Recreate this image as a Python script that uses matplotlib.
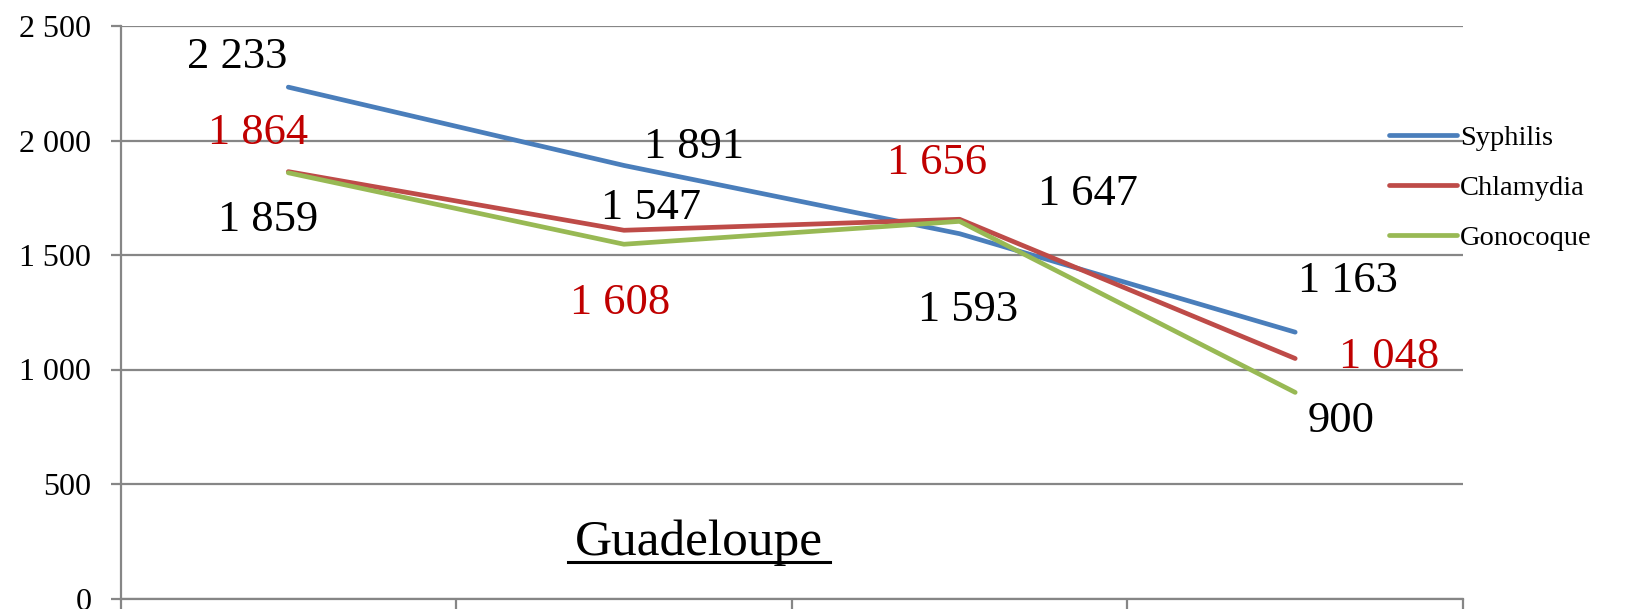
import matplotlib.pyplot as plt
from matplotlib.ticker import FixedLocator, FuncFormatter

categories = ['cat1', 'cat2', 'cat3', 'cat4']
syphilis = [2233, 1891, 1593, 1163]
chlamydia = [1864, 1608, 1656, 1048]
gonocoque = [1859, 1547, 1647, 900]
series_names = ['Syphilis', 'Chlamydia', 'Gonocoque']
y_ticks = [0, 500, 1000, 1500, 2000, 2500]

COLORS = ['#4A7EBB', '#BE4B48', '#98B954']
GRID = '#868686'
SERIF = ['Liberation Serif', 'DejaVu Serif']

# label offsets in pixels from each point (series x category)
LABEL_OFFSETS = [
    [(-51, 30), (70, 18), (9, -76), (53, 51)],
    [(-30, 39), (-4, -73), (-22, 56), (94, 2)],
    [(-20, -47), (27, 36), (128, 27), (46, -29)],
]
LABEL_COLORS = ['black', '#C00000', 'black']


def fmt(v, _=None):
    return f'{int(v):,}'.replace(',', ' ')


fig = plt.figure(figsize=(16.29, 6.09), dpi=100)
ax = fig.add_axes([120.5 / 1629, 10.5 / 609, 1342.5 / 1629, 572.5 / 609])

x = list(range(len(categories)))
all_series = [syphilis, chlamydia, gonocoque]
for s, (vals, name, col) in enumerate(zip(all_series, series_names, COLORS)):
    ax.plot(x, vals, color=col, lw=3.4, label=name, solid_capstyle='round', zorder=3)
    for i, v in enumerate(vals):
        dx, dy = LABEL_OFFSETS[s][i]
        ax.annotate(fmt(v), (i, v), xytext=(dx, dy), textcoords='offset pixels',
                    ha='center', va='center', fontsize=32, family=SERIF,
                    color=LABEL_COLORS[s], zorder=4)

ax.set_xlim(-0.5, len(categories) - 0.5)
ax.set_ylim(0, 2500)
ax.yaxis.set_major_locator(FixedLocator(y_ticks))
ax.yaxis.set_major_formatter(FuncFormatter(fmt))
ax.set_xticks([i - 0.5 for i in range(len(categories) + 1)])
ax.set_xticklabels([])
ax.grid(axis='y', color=GRID, lw=1.6, zorder=0)
for side in ['top', 'right']:
    ax.spines[side].set_visible(False)
ax.spines['left'].set_color(GRID)
ax.spines['left'].set_linewidth(1.6)
ax.spines['bottom'].set_color(GRID)
ax.spines['bottom'].set_linewidth(1.6)
ax.tick_params(axis='y', length=7, width=1.6, color=GRID, pad=14, labelsize=23)
ax.tick_params(axis='x', length=14, width=1.6, color=GRID)
for lab in ax.get_yticklabels():
    lab.set_family(SERIF)

ax.text((698.5 - 120.5) / 1342.5, (598.5 - 555) / 572.5, 'Guadeloupe',
        transform=ax.transAxes, ha='center', va='baseline',
        fontsize=37, family=SERIF)
ax.plot([(568 - 120.5) / 1342.5, (830 - 120.5) / 1342.5],
        [(598.5 - 562) / 572.5] * 2,
        transform=ax.transAxes, color='black', lw=2.2, clip_on=False)

fig.legend(loc='center left', bbox_to_anchor=(1363 / 1629, 1 - 188 / 609),
           frameon=False, prop={'family': SERIF, 'size': 20.5},
           handlelength=2.4, handletextpad=0.1, labelspacing=0.85)

fig.savefig('out.png', dpi=100)
